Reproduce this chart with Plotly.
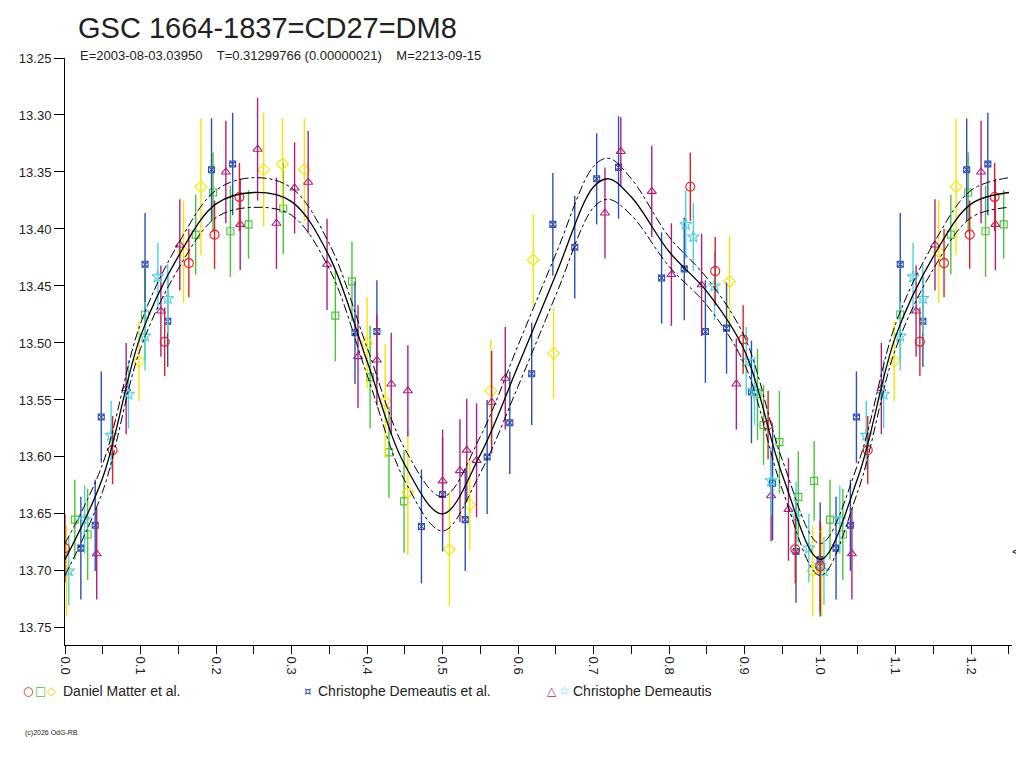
import plotly.graph_objects as go

# ---- light curve (mean fit) ----
curve_phase = [0.00,0.05,0.10,0.15,0.20,0.25,0.30,0.35,0.40,0.45,0.50,0.55,0.60,0.65,0.70,0.72,0.75,0.80,0.85,0.90,0.95,1.00]
curve_mag   = [13.690,13.618,13.494,13.424,13.378,13.368,13.376,13.424,13.516,13.607,13.650,13.598,13.520,13.440,13.363,13.356,13.372,13.420,13.455,13.507,13.616,13.690]
curve_band  = [0.014,0.012,0.011,0.011,0.012,0.013,0.012,0.011,0.012,0.014,0.015,0.016,0.018,0.018,0.018,0.018,0.016,0.013,0.012,0.012,0.013,0.014]

# ---- Daniel Matter et al. ----
dm_red_phase = [0.000,0.063,0.132,0.164,0.198,0.231,0.828,0.861,0.898,0.931,0.967,1.000]
dm_red_mag   = [13.680,13.594,13.499,13.430,13.405,13.372,13.363,13.437,13.497,13.572,13.681,13.696]
dm_red_err   = [0.030,0.030,0.030,0.030,0.030,0.030,0.030,0.030,0.030,0.030,0.030,0.030]

dm_grn_phase = [0.013,0.030,0.106,0.173,0.196,0.219,0.243,0.289,0.358,0.380,0.404,0.429,0.449,0.917,0.925,0.946,0.971,0.992]
dm_grn_mag   = [13.655,13.668,13.475,13.405,13.368,13.402,13.396,13.382,13.476,13.446,13.530,13.596,13.639,13.545,13.572,13.587,13.635,13.621]
dm_grn_err   = [0.035,0.040,0.040,0.035,0.035,0.040,0.030,0.040,0.040,0.035,0.045,0.040,0.045,0.040,0.035,0.045,0.040,0.035]

dm_yel_phase = [0.002,0.098,0.157,0.180,0.263,0.288,0.317,0.400,0.424,0.454,0.509,0.536,0.564,0.620,0.647,0.880,0.990]
dm_yel_mag   = [13.700,13.516,13.420,13.363,13.348,13.343,13.348,13.500,13.551,13.631,13.681,13.642,13.542,13.427,13.509,13.446,13.700]
dm_yel_err   = [0.040,0.035,0.045,0.060,0.050,0.040,0.045,0.040,0.050,0.055,0.050,0.040,0.045,0.040,0.040,0.040,0.040]

# ---- Christophe Demeautis et al. ----
cde_phase = [0.021,0.040,0.048,0.106,0.136,0.194,0.222,0.384,0.413,0.472,0.500,0.530,0.559,0.589,0.618,0.646,0.675,0.704,0.733,0.790,0.820,0.848,0.876,0.909,0.937,0.968,1.000]
cde_mag   = [13.680,13.660,13.565,13.431,13.481,13.348,13.343,13.491,13.490,13.661,13.633,13.655,13.600,13.570,13.527,13.396,13.416,13.356,13.346,13.443,13.435,13.490,13.487,13.543,13.623,13.683,13.690]
cde_err   = [0.045,0.040,0.040,0.045,0.040,0.045,0.045,0.045,0.045,0.050,0.050,0.045,0.050,0.045,0.045,0.045,0.045,0.040,0.045,0.040,0.045,0.045,0.040,0.045,0.050,0.045,0.050]

# ---- Christophe Demeautis ----
cd_tri_phase = [0.042,0.081,0.127,0.152,0.213,0.232,0.255,0.280,0.304,0.322,0.347,0.388,0.413,0.432,0.454,0.500,0.523,0.532,0.545,0.565,0.583,0.715,0.736,0.777,0.803,0.843,0.889,0.935,0.958,1.000]
cd_tri_mag   = [13.685,13.540,13.472,13.414,13.350,13.396,13.330,13.395,13.364,13.359,13.431,13.512,13.515,13.536,13.542,13.621,13.612,13.594,13.603,13.552,13.531,13.386,13.332,13.367,13.440,13.449,13.536,13.634,13.646,13.696]
cd_tri_err   = [0.040,0.040,0.040,0.040,0.045,0.040,0.045,0.040,0.040,0.045,0.040,0.045,0.040,0.045,0.040,0.045,0.045,0.045,0.050,0.045,0.045,0.040,0.030,0.040,0.045,0.045,0.040,0.040,0.045,0.040]

cd_star_phase = [0.005,0.026,0.061,0.084,0.106,0.123,0.136,0.822,0.832,0.860,0.902,0.913,0.935,0.968,0.985,1.000]
cd_star_mag   = [13.700,13.655,13.581,13.545,13.494,13.442,13.461,13.396,13.407,13.450,13.516,13.542,13.621,13.652,13.680,13.695]
cd_star_err   = [0.030,0.030,0.030,0.030,0.030,0.030,0.030,0.030,0.030,0.030,0.030,0.030,0.030,0.030,0.030,0.030]

XMAX = 1.254

def extend(ph, mg, er=None):
    px, my, ee = list(ph), list(mg), list(er) if er else None
    for i, p in enumerate(ph):
        if p + 1 <= XMAX and p > 0:
            px.append(p + 1); my.append(mg[i])
            if er: ee.append(er[i])
    return px, my, ee

fig = go.Figure()

cx, cy, cb = extend(curve_phase, curve_mag, curve_band)
order = sorted(range(len(cx)), key=lambda i: cx[i])
cx = [cx[i] for i in order]; cy = [cy[i] for i in order]; cb = [cb[i] for i in order]

def add_pts(ph, mg, er, color, symbol, size=8):
    x, y, e = extend(ph, mg, er)
    fig.add_trace(go.Scatter(x=x, y=y, mode="markers",
        marker=dict(symbol=symbol, size=size, color=color, line=dict(color=color, width=1.1)),
        error_y=dict(type="data", array=e, color=color, thickness=1.4, width=0),
        showlegend=False, hoverinfo="skip"))

add_pts(dm_grn_phase, dm_grn_mag, dm_grn_err, "#4cc23a", "square-open", 7)
add_pts(dm_yel_phase, dm_yel_mag, dm_yel_err, "#f5e400", "diamond-open", 9)
add_pts(cde_phase, cde_mag, cde_err, "#3050b0", "square-x-open", 6)
add_pts(cd_tri_phase, cd_tri_mag, cd_tri_err, "#b0207a", "triangle-up-open", 8)
add_pts(cd_star_phase, cd_star_mag, cd_star_err, "#4fd0e0", "star-open", 9)
add_pts(dm_red_phase, dm_red_mag, dm_red_err, "#e02020", "circle-open", 9)

fig.add_trace(go.Scatter(x=cx, y=[m - b for m, b in zip(cy, cb)], mode="lines",
    line=dict(color="black", width=1, dash="dashdot", shape="spline"), showlegend=False, hoverinfo="skip"))
fig.add_trace(go.Scatter(x=cx, y=[m + b for m, b in zip(cy, cb)], mode="lines",
    line=dict(color="black", width=1, dash="dashdot", shape="spline"), showlegend=False, hoverinfo="skip"))
fig.add_trace(go.Scatter(x=cx, y=cy, mode="lines",
    line=dict(color="black", width=1.3, shape="spline"), showlegend=False, hoverinfo="skip"))

font = "Liberation Sans, Arial, sans-serif"
fig.update_layout(
    width=1024, height=768, paper_bgcolor="white", plot_bgcolor="white",
    margin=dict(l=57, r=20, t=50, b=131),
    font=dict(family=font, color="#222"),
    xaxis=dict(range=[0, XMAX], tickvals=[i/10 for i in range(13)],
               ticktext=[f"{i/10:.1f}" for i in range(13)], tickangle=90,
               ticks="outside", ticklen=8, tickcolor="black", showline=True, linecolor="black",
               showgrid=False, zeroline=False, tickfont=dict(size=13),
               minor=dict(tickvals=[i/20 for i in range(1, 26, 2)], ticks="outside", ticklen=8, tickcolor="black")),
    yaxis=dict(range=[13.765, 13.25], tickvals=[13.25+0.05*i for i in range(11)],
               ticktext=[f"{13.25+0.05*i:.2f}" for i in range(11)],
               ticks="outside", ticklen=10, tickcolor="black", showline=True, linecolor="black",
               showgrid=False, zeroline=False, tickfont=dict(size=13)),
)

ann = [
    dict(text="GSC 1664-1837=CD27=DM8", x=68, y=20, size=29, anchor="left"),
    dict(text="E=2003-08-03.03950    T=0.31299766 (0.00000021)    M=2213-09-15", x=70, y=47, size=13, anchor="left"),
    dict(text="Daniel Matter et al.", x=53, y=683, size=14, anchor="left"),
    dict(text="Christophe Demeautis et al.", x=308, y=683, size=14, anchor="left"),
    dict(text="Christophe Demeautis", x=563, y=683, size=14, anchor="left"),
    dict(text="(c)2026 OdG-RB", x=15, y=725, size=7, anchor="left"),
    dict(text="&lt;", x=1008, y=543, size=13, anchor="center"),
]
for a in ann:
    fig.add_annotation(text=a["text"], xref="paper", yref="paper", showarrow=False,
        x=(a["x"]-57)/947, y=(768-131-a["y"])/587,
        xanchor=a["anchor"], yanchor="middle", font=dict(size=a["size"], family=font, color="#222"))

syms = [("○", "#e02020", 20), ("□", "#4cc23a", 32), ("◇", "#e8d800", 44),
        ("¤", "#3050b0", 300), ("△", "#b0207a", 544), ("☆", "#4fd0e0", 556)]
for s, c, x in syms:
    fig.add_annotation(text=s, xref="paper", yref="paper", showarrow=False,
        x=(x-57)/947, y=(768-131-683)/587, xanchor="center", yanchor="middle",
        font=dict(size=12, color=c, family="DejaVu Sans"))

fig.write_html("out.html")
